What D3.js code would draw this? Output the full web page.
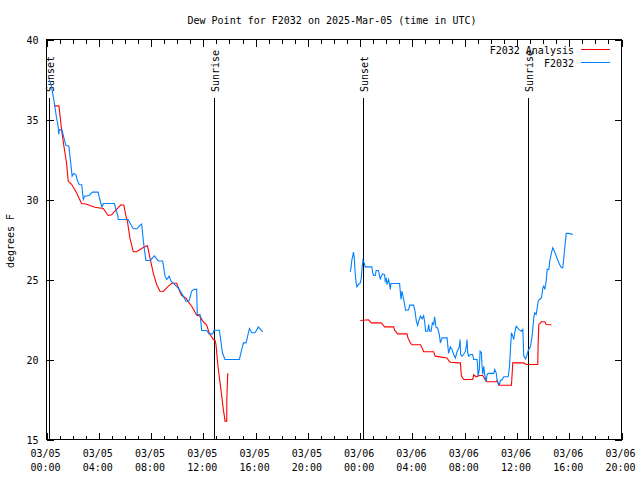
<!DOCTYPE html>
<html>
<head>
<meta charset="utf-8">
<script src="https://cdn.jsdelivr.net/npm/d3@7"></script>
<style>
  html, body { margin: 0; padding: 0; background: #fff; }
  text { font-family: "DejaVu Sans Mono", "Liberation Mono", monospace; font-size: 10px; fill: #000; }
</style>
</head>
<body>
<script>
// ---------- data (hours since 03/05 00:00 UTC, degrees F) ----------
const title = "Dew Point for F2032 on 2025-Mar-05 (time in UTC)";
const yLabel = "degrees F";
const seriesNames = ["F2032 Analysis", "F2032"];
const seriesColors = ["#ff0000", "#0080ff"];

const tickHours = [0, 4, 8, 12, 16, 20, 24, 28, 32, 36, 40, 44];
const tickDays  = ["03/05","03/05","03/05","03/05","03/05","03/05","03/06","03/06","03/06","03/06","03/06","03/06"];
const tickTimes = ["00:00","04:00","08:00","12:00","16:00","20:00","00:00","04:00","08:00","12:00","16:00","20:00"];
const yTicks = [15, 20, 25, 30, 35, 40];

const sunHours  = [0.2, 12.84, 24.26, 36.86];
const sunLabels = ["Sunset", "Sunrise", "Sunset", "Sunrise"];

const anaDay1Hours = [0.6,0.95,1.15,1.3,1.53,1.66,1.92,2.3,2.68,3.01,3.7,4.34,4.72,4.98,5.36,5.69,5.92,6.08,6.2,6.38,6.64,6.9,7.3,7.72,7.96,8.2,8.43,8.68,8.93,9.2,9.58,9.96,10.21,10.35,10.7,10.85,11.11,11.49,11.75,11.95,12.26,12.45,12.77,12.9,12.97,13.07,13.15,13.28,13.41,13.53,13.61,13.66,13.79,13.8,13.87,13.92];
const anaDay1Values = [35.85,35.85,34.4,33.5,32.3,31.15,30.95,30.42,29.75,29.72,29.52,29.44,29.0,29.04,29.38,29.67,29.64,28.96,28.6,27.6,26.73,26.73,26.95,27.12,26.2,25.3,24.69,24.27,24.25,24.48,24.77,24.77,24.24,24.0,23.82,23.6,23.33,22.78,22.7,22.4,22.15,21.65,21.25,21.2,20.94,20.0,19.38,18.54,17.7,16.88,16.46,16.15,16.15,17.6,19.1,19.1];

const anaDay2Hours = [24.01,24.64,24.85,25.59,25.72,25.87,26.56,26.64,26.87,27.59,27.66,27.84,27.97,28.61,28.74,28.86,29.62,29.75,30.65,30.77,30.9,31.54,31.67,31.75,31.92,32.61,32.69,32.87,33.13,33.38,33.64,33.72,34.41,34.48,34.61,35.58,35.68,36.52,36.7,37.59,37.62,37.67,37.88,38.13,38.24,38.64];
const anaDay2Values = [22.44,22.48,22.29,22.29,22.19,22.04,22.04,21.83,21.6,21.6,21.35,21.04,20.92,20.92,20.73,20.48,20.48,20.21,20.1,19.94,19.83,19.79,19.79,18.96,18.75,18.75,19.04,18.92,19.0,19.0,18.64,18.61,18.61,18.69,18.39,18.39,19.79,19.79,19.69,19.69,20.94,22.19,22.36,22.36,22.19,22.17];

const obsDay1Hours = [0.2,0.38,0.51,0.64,0.74,0.89,0.94,0.98,1.2,1.27,1.48,1.71,1.84,1.96,2.09,2.25,2.34,2.5,2.7,2.76,2.82,2.93,3.26,3.52,3.95,4.08,4.24,4.35,5.2,5.31,5.44,5.49,6.25,6.38,6.64,6.92,7.15,7.28,7.4,7.49,7.61,7.95,8.25,8.55,8.89,9.07,9.2,9.39,9.52,9.7,10.16,10.47,10.67,10.9,11.11,11.29,11.49,11.54,11.75,11.88,12.26,12.44,12.72,12.82,13.23,13.33,13.46,13.66,14.76,14.94,15.07,15.27,15.53,15.71,15.96,16.21,16.34,16.55];
const obsDay1Values = [37.5,37.08,36.46,35.83,35.25,34.58,34.06,34.38,34.33,34.06,33.38,33.33,32.4,31.46,31.63,31.56,31.25,30.94,30.92,30.42,30.0,30.21,30.25,30.46,30.46,30.0,29.53,29.75,29.75,29.38,29.06,28.75,28.75,28.54,28.17,28.17,28.38,28.47,27.5,26.88,26.19,26.19,26.47,26.16,26.16,25.21,25.0,25.21,24.9,24.79,24.38,23.96,23.64,23.64,24.27,24.38,24.38,22.81,22.81,21.81,21.81,21.6,21.6,21.83,21.83,21.25,20.42,20.0,20.0,20.63,21.04,21.04,21.94,21.67,21.67,22.04,21.92,21.73];

const obsDay2Hours = [23.24,23.3,23.37,23.45,23.49,23.55,23.62,23.68,23.75,23.88,24.01,24.08,24.16,24.21,24.31,24.39,24.9,24.95,25.03,25.16,25.23,25.41,25.49,25.54,25.62,25.72,25.87,25.92,26.0,26.05,26.18,26.25,26.31,26.36,27.02,27.07,27.13,27.2,27.28,27.38,27.48,27.71,27.79,28.09,28.2,28.3,28.4,28.48,28.61,28.74,28.86,28.94,29.01,29.17,29.24,29.32,29.43,29.53,29.63,29.7,29.81,29.93,30.06,30.14,30.27,30.65,30.77,30.9,31.03,31.16,31.29,31.42,31.59,31.65,31.69,31.8,31.92,32.05,32.13,32.18,32.23,32.31,32.44,32.61,32.69,32.95,32.99,33.02,33.12,33.18,33.28,33.33,33.38,33.46,33.53,33.64,33.72,33.79,34.22,34.3,34.41,34.48,34.56,34.66,34.74,34.87,34.99,35.33,35.43,35.5,35.58,35.68,35.75,35.83,35.94,36.14,36.34,36.45,36.52,36.66,36.78,36.86,37.04,37.17,37.29,37.36,37.47,37.55,37.63,37.72,37.88,37.98,38.05,38.13,38.24,38.31,38.44,38.51,38.64,38.74,38.87,39.08,39.26,39.41,39.51,39.66,39.77,39.97,40.28];
const obsDay2Values = [25.48,25.73,26.25,26.5,26.71,26.35,25.42,24.9,24.54,24.69,24.79,25.04,25.83,26.2,26.04,25.79,25.79,25.46,25.25,25.25,25.56,25.56,25.21,25.0,25.21,25.35,25.31,24.9,25.04,24.69,25.0,24.69,24.38,24.75,24.75,24.27,23.75,24.27,23.96,23.54,23.08,23.1,23.4,23.4,23.02,22.4,22.13,22.4,22.71,22.54,22.75,22.33,21.77,21.77,22.19,21.77,21.77,22.29,22.19,22.67,21.98,21.98,21.56,21.04,21.35,21.35,20.38,20.79,20.63,20.31,20.1,20.5,20.8,21.25,20.31,20.21,20.31,20.52,20.83,21.25,20.42,20.21,20.31,20.31,20.0,20.0,19.58,18.96,19.38,20.52,20.42,19.58,19.06,19.58,19.06,18.64,19.06,19.13,19.13,19.38,19.17,18.71,18.54,18.44,18.69,18.75,18.92,18.92,19.58,20.63,21.67,21.46,21.25,21.67,22.08,21.88,21.77,21.88,20.21,20.04,20.31,20.56,20.83,21.56,22.6,22.92,22.81,23.23,23.65,23.75,23.85,24.48,24.58,24.38,24.9,25.63,25.63,26.15,26.67,26.98,26.77,26.29,25.94,25.73,25.73,26.98,27.88,27.88,27.81];

// ---------- chart ----------
const W = 640, H = 480;
const svg = d3.select("body").append("svg").attr("width", W).attr("height", H);
svg.append("rect").attr("width", W).attr("height", H).attr("fill", "#fff");

const x = d3.scaleLinear().domain([0, 44]).range([46.5, 621.5]);
const y = d3.scaleLinear().domain([15, 40]).range([439.5, 39.5]);
const plotTop = y.range()[1], plotBottom = y.range()[0], plotLeft = x.range()[0], plotRight = x.range()[1];

const minorHours = d3.range(0, 45, 1).filter(h => h % 4 !== 0);

function styleAxis(g) {
  g.select(".domain").remove();
  g.selectAll("line").attr("stroke", "#000").attr("shape-rendering", "crispEdges");
}

// bottom axis (major + minor)
svg.append("g").attr("transform", `translate(0,${plotBottom})`)
  .call(d3.axisBottom(x).tickValues(tickHours).tickSizeInner(-7).tickSizeOuter(0).tickFormat(""))
  .call(styleAxis);
svg.append("g").attr("transform", `translate(0,${plotBottom})`)
  .call(d3.axisBottom(x).tickValues(minorHours).tickSizeInner(-4).tickSizeOuter(0).tickFormat(""))
  .call(styleAxis);
// top axis
svg.append("g").attr("transform", `translate(0,${plotTop})`)
  .call(d3.axisTop(x).tickValues(tickHours).tickSizeInner(-7).tickSizeOuter(0).tickFormat(""))
  .call(styleAxis);
svg.append("g").attr("transform", `translate(0,${plotTop})`)
  .call(d3.axisTop(x).tickValues(minorHours).tickSizeInner(-4).tickSizeOuter(0).tickFormat(""))
  .call(styleAxis);
// left axis
const gl = svg.append("g").attr("transform", `translate(${plotLeft},0)`)
  .call(d3.axisLeft(y).tickValues(yTicks).tickSizeInner(-7).tickSizeOuter(0).tickFormat(d3.format("d")))
  .call(styleAxis);
gl.attr("font-family", null).attr("font-size", null);
gl.selectAll("text").attr("x", -8).attr("dy", "0.35em").attr("fill", "#000");
// right axis
svg.append("g").attr("transform", `translate(${plotRight},0)`)
  .call(d3.axisRight(y).tickValues(yTicks).tickSizeInner(-7).tickSizeOuter(0).tickFormat(""))
  .call(styleAxis);

// x tick labels (two lines)
const xl = svg.append("g").selectAll("text").data(tickHours).join("text")
  .attr("text-anchor", "middle")
  .attr("transform", d => `translate(${x(d) - 1},0)`);
xl.append("tspan").attr("x", 0).attr("y", 457).text((d, i) => tickDays[i]);
xl.append("tspan").attr("x", 0).attr("y", 471).text((d, i) => tickTimes[i]);

// border
svg.append("rect").attr("x", plotLeft).attr("y", plotTop).attr("width", plotRight - plotLeft).attr("height", plotBottom - plotTop)
  .attr("fill", "none").attr("stroke", "#000").attr("shape-rendering", "crispEdges");

// sunrise / sunset markers
const sun = svg.append("g").selectAll("g").data(sunHours).join("g");
sun.append("line")
  .attr("x1", d => x(d)).attr("x2", d => x(d))
  .attr("y1", 98).attr("y2", plotBottom)
  .attr("stroke", "#000").attr("shape-rendering", "crispEdges");
sun.append("text")
  .attr("transform", d => `translate(${x(d) + 4.5},92) rotate(-90)`)
  .attr("text-anchor", "start")
  .text((d, i) => sunLabels[i]);

// series
const line = d3.line().x(d => x(d[0])).y(d => y(d[1]));
function drawSeries(hours, values, color) {
  svg.append("path").datum(d3.zip(hours, values))
    .attr("d", line).attr("fill", "none").attr("stroke", color).attr("stroke-width", 1.1)
    .attr("stroke-linejoin", "miter");
}
drawSeries(anaDay1Hours, anaDay1Values, seriesColors[0]);
drawSeries(anaDay2Hours, anaDay2Values, seriesColors[0]);
drawSeries(obsDay1Hours, obsDay1Values, seriesColors[1]);
drawSeries(obsDay2Hours, obsDay2Values, seriesColors[1]);

// title & y label
svg.append("text").attr("x", 332).attr("y", 24).attr("text-anchor", "middle").text(title);
svg.append("text").attr("transform", "translate(14,241) rotate(-90)").attr("text-anchor", "middle").text(yLabel);

// legend
const lg = svg.append("g").selectAll("g").data(seriesNames).join("g")
  .attr("transform", (d, i) => `translate(0,${49.5 + i * 13})`);
lg.append("text").attr("x", 574).attr("y", 4).attr("text-anchor", "end").text(d => d);
lg.append("line").attr("x1", 581).attr("x2", 610).attr("y1", 0).attr("y2", 0)
  .attr("stroke", (d, i) => seriesColors[i]).attr("shape-rendering", "crispEdges");
</script>
</body>
</html>
